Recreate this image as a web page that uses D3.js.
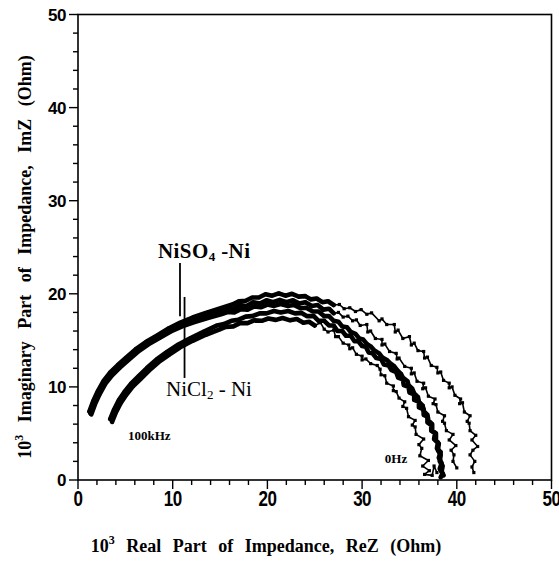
<!DOCTYPE html>
<html>
<head>
<meta charset="utf-8">
<script src="https://cdn.jsdelivr.net/npm/d3@7"></script>
<style>
  html, body { margin: 0; padding: 0; background: #fff; }
  svg { display: block; }
</style>
</head>
<body>
<div id="chart"></div>
<script>
// axis ticks
const majorTicks = [0, 10, 20, 30, 40, 50];
const minorTicks = d3.range(0, 51, 2);

// NiSO4 - Ni, three runs  [ReZ, ImZ] in 10^3 Ohm
const niso4Run1 = [[1.2,7.35],[1.6,8.45],[2.1,9.55],[2.7,10.65],[3.4,11.55],[4.2,12.35],[5.1,13.15],[6.1,14.05],[7.2,14.85],[8.4,15.55],[9.6,16.3],[10.8,16.9],[12.1,17.45],[13.5,17.95],[14.9,18.4],[16.3,18.85],[17.0,19.2],[17.7,19.25],[18.4,19.6],[19.1,19.6],[19.8,19.95],[20.5,19.8],[21.2,20.05],[21.9,19.8],[22.6,20.0],[23.3,19.7],[24.0,19.75],[24.6,19.4],[25.2,19.5],[25.8,19.1],[26.4,19.2],[27.0,18.8],[27.6,18.85],[28.1,18.4],[28.7,18.5],[29.3,18.1],[29.9,18.3],[30.5,17.8],[31.0,17.95],[31.8,17.1],[32.1,17.3],[32.6,16.7],[33.4,16.7],[33.5,15.9],[33.8,16.1],[34.3,15.2],[35.0,15.4],[35.2,14.5],[35.5,14.7],[35.9,13.9],[36.5,13.8],[36.6,13.1],[36.9,13.2],[37.3,12.3],[37.9,12.1],[38.0,11.5],[38.3,11.6],[38.6,10.7],[39.2,10.4],[39.2,9.9],[39.5,10.0],[39.8,9.1],[40.4,8.7],[40.3,8.2],[40.6,8.3],[40.8,7.3],[41.4,6.9],[41.1,6.3],[41.3,6.1],[41.4,5.3],[42.0,4.8],[41.6,4.3],[42.2,3.6],[41.7,3.2],[41.4,2.7],[41.9,2.0],[41.6,1.4],[41.8,0.8]];
const niso4Run2 = [[1.3,7.2],[1.7,8.3],[2.2,9.4],[2.8,10.5],[3.5,11.4],[4.3,12.2],[5.2,13.0],[6.2,13.9],[7.3,14.7],[8.5,15.4],[9.7,16.1],[10.9,16.7],[12.2,17.2],[13.6,17.7],[15.0,18.1],[15.7,18.45],[16.4,18.4],[17.1,18.8],[17.8,18.7],[18.5,19.1],[19.2,18.95],[19.9,19.3],[20.6,19.1],[21.3,19.35],[22.0,19.1],[22.7,19.3],[23.4,18.95],[24.0,19.1],[24.7,18.7],[25.3,18.8],[25.9,18.3],[26.5,18.4],[27.0,17.9],[27.5,18.0],[28.0,17.5],[28.5,17.6],[29.0,17.1],[29.4,17.2],[29.8,16.6],[30.5,16.7],[30.6,15.9],[30.9,16.0],[31.4,15.2],[32.1,15.1],[32.1,14.5],[32.4,14.6],[32.9,13.8],[33.6,13.6],[33.7,13.0],[33.9,13.1],[34.5,12.2],[35.2,12.0],[35.2,11.4],[35.5,11.5],[35.8,10.6],[36.5,10.4],[36.4,9.8],[36.7,9.9],[37.0,9.0],[37.7,8.7],[37.5,8.2],[37.8,8.1],[38.0,7.3],[38.7,6.9],[38.5,6.3],[38.7,6.1],[38.9,5.3],[39.6,4.9],[39.2,4.3],[39.9,3.7],[39.4,3.2],[39.7,2.7],[39.6,2.0],[40.0,1.3]];
const niso4Run3 = [[1.4,7.05],[1.8,8.15],[2.3,9.25],[2.9,10.35],[3.6,11.25],[4.4,12.05],[5.3,12.85],[6.3,13.75],[7.4,14.55],[8.6,15.25],[9.8,15.95],[11.0,16.5],[12.3,16.95],[13.7,17.4],[15.1,17.8],[15.8,18.05],[16.5,18.0],[17.2,18.35],[17.9,18.3],[18.6,18.65],[19.3,18.55],[20.0,18.85],[20.7,18.7],[21.4,18.9],[22.1,18.7],[22.8,18.8],[23.5,18.45],[24.1,18.5],[24.8,18.1],[25.4,18.1],[26.0,17.6],[26.5,17.6],[27.0,17.1],[27.5,17.0],[27.9,16.5],[28.4,16.4],[28.8,15.9],[29.3,15.7],[29.7,15.2],[30.1,15.1],[30.5,14.6],[30.9,14.35],[31.3,13.9],[31.8,13.6],[32.1,13.2],[32.6,12.9],[32.9,12.6],[33.4,12.2],[33.7,11.8],[34.1,11.4],[34.3,11.0],[34.8,10.6],[34.9,10.2],[35.3,9.8],[35.5,9.3],[35.9,8.9],[36.0,8.4],[36.4,8.0],[36.5,7.4],[36.9,7.0],[37.0,6.4],[37.4,6.0],[37.4,5.3],[37.8,5.0],[37.8,4.3],[38.1,3.9],[38.0,3.2],[38.3,2.7],[38.2,2.0],[38.5,1.5],[38.4,0.9],[38.6,0.5]];

// NiCl2 - Ni, two runs
const nicl2Run1 = [[3.4,6.55],[3.8,7.55],[4.3,8.55],[4.9,9.45],[5.6,10.35],[6.4,11.15],[7.3,12.05],[8.3,12.95],[9.4,13.75],[10.6,14.55],[11.9,15.25],[13.3,15.95],[14.7,16.6],[15.4,16.75],[16.2,17.1],[16.9,17.2],[17.7,17.55],[18.4,17.6],[19.2,17.9],[19.9,17.9],[20.7,18.15],[21.4,18.0],[22.2,18.15],[22.9,17.9],[23.6,17.95],[24.2,17.6],[24.9,17.6],[25.4,17.1],[26.0,17.1],[26.5,16.6],[27.0,16.6],[27.4,16.0],[27.9,16.0],[28.3,15.5],[28.8,15.5],[29.2,14.9],[29.6,14.9],[30.0,14.4],[30.4,14.3],[30.7,13.7],[31.1,13.6],[31.5,13.1],[32.0,13.0],[32.3,12.4],[32.8,12.3],[33.1,11.8],[33.6,11.6],[33.8,11.0],[34.3,10.8],[34.4,10.2],[34.9,10.0],[35.0,9.4],[35.5,9.2],[35.5,8.6],[36.0,8.4],[36.0,7.8],[36.5,7.6],[36.5,7.0],[36.9,6.8],[36.9,6.2],[37.3,5.9],[37.3,5.3],[37.7,5.0],[37.6,4.4],[38.0,4.0],[37.9,3.4],[38.3,3.0],[38.1,2.4],[38.4,1.8],[38.2,1.2],[38.5,0.7],[38.3,0.3]];
const nicl2Run2 = [[3.6,6.25],[4.0,7.25],[4.5,8.25],[5.1,9.15],[5.8,10.05],[6.6,10.85],[7.5,11.75],[8.5,12.65],[9.6,13.45],[10.8,14.25],[12.1,14.95],[13.5,15.6],[14.9,16.15],[15.6,16.45],[16.4,16.5],[17.1,16.85],[17.9,16.85],[18.6,17.15],[19.4,17.1],[20.1,17.35],[20.9,17.2],[21.6,17.4],[22.4,17.15],[23.1,17.3],[23.8,16.9],[24.4,17.0],[25.0,16.6],[25.6,16.9],[26.0,16.2],[26.4,15.9],[27.0,16.1],[27.2,15.4],[27.5,15.4],[28.0,14.7],[28.6,14.5],[28.7,14.1],[29.0,14.2],[29.4,13.5],[30.0,13.3],[30.0,12.9],[30.4,13.0],[30.9,12.5],[31.6,12.3],[31.9,11.9],[32.0,11.3],[32.4,11.2],[32.6,10.4],[33.3,10.1],[33.3,9.6],[33.6,9.5],[33.9,8.8],[34.5,8.4],[34.3,7.9],[34.7,7.7],[34.9,6.8],[35.6,6.4],[35.3,5.9],[35.6,5.7],[35.7,4.9],[36.5,4.4],[36.0,3.8],[36.3,3.4],[36.1,2.6],[37.0,2.1],[36.4,1.5],[37.1,1.0],[36.6,0.6],[37.4,0.5],[37.6,1.5],[37.9,0.8]];

const runs = [
  { data: niso4Run1, denseTo: 27 },
  { data: niso4Run2, denseTo: 27 },
  { data: niso4Run3, denseTo: 50 },
  { data: nicl2Run1, denseTo: 50 },
  { data: nicl2Run2, denseTo: 25 }
];

const W = 559, H = 561;
const x = d3.scaleLinear().domain([0, 50]).range([78, 551.5]);
const y = d3.scaleLinear().domain([0, 50]).range([480, 14.5]);

const svg = d3.select('#chart').append('svg')
  .attr('width', W).attr('height', H)
  .style('background', '#fff');

// frame
svg.append('rect')
  .attr('x', x(0)).attr('y', y(50))
  .attr('width', x(50) - x(0)).attr('height', y(0) - y(50))
  .attr('fill', 'none').attr('stroke', '#000').attr('stroke-width', 1.6);

// ticks, outward on left and bottom only
const tickG = svg.append('g').attr('stroke', '#000').attr('stroke-width', 1.4);
minorTicks.forEach(t => {
  const len = t % 10 === 0 ? 9 : 5;
  tickG.append('line').attr('x1', x(t)).attr('x2', x(t)).attr('y1', y(0)).attr('y2', y(0) + len);
  tickG.append('line').attr('x1', x(0) - len).attr('x2', x(0)).attr('y1', y(t)).attr('y2', y(t));
});

const tickFont = '"Liberation Sans", Arial, sans-serif';
svg.append('g').selectAll('text').data(majorTicks).enter().append('text')
  .attr('x', 66).attr('y', d => y(d) + 6)
  .attr('text-anchor', 'end')
  .style('font-family', tickFont).style('font-weight', 'bold').style('font-size', '17px')
  .style('letter-spacing', '-0.5px')
  .text(d => d);

svg.append('g').selectAll('text').data(majorTicks).enter().append('text')
  .attr('transform', d => `translate(${x(d)},506) scale(1,1.25)`)
  .attr('text-anchor', 'middle')
  .style('font-family', tickFont).style('font-weight', 'bold').style('font-size', '17px')
  .style('letter-spacing', '-0.5px')
  .text(d => d);

// axis titles
const serif = '"Liberation Serif", "Times New Roman", serif';
const xt = svg.append('text')
  .attr('x', 266).attr('y', 552).attr('text-anchor', 'middle')
  .style('font-family', serif).style('font-weight', 'bold').style('font-size', '18px')
  .style('word-spacing', '7px');
xt.append('tspan').text('10');
xt.append('tspan').attr('dy', -8).style('font-size', '12px').text('3');
xt.append('tspan').attr('dy', 8).text(' Real Part of Impedance, ReZ (Ohm)');

const yt = svg.append('text')
  .attr('transform', 'translate(31,257) rotate(-90)').attr('text-anchor', 'middle')
  .style('font-family', serif).style('font-weight', 'bold').style('font-size', '18px')
  .style('word-spacing', '8px');
yt.append('tspan').text('10');
yt.append('tspan').attr('dy', -8).style('font-size', '12px').text('3');
yt.append('tspan').attr('dy', 8).text(' Imaginary Part of Impedance, ImZ (Ohm)');

// data
const plot = svg.append('g');
const line = d3.line().x(d => x(d[0])).y(d => y(d[1]));

runs.forEach(r => {
  plot.append('path').datum(r.data).attr('d', line)
    .attr('fill', 'none').attr('stroke', '#000').attr('stroke-width', 1.6)
    .attr('stroke-linejoin', 'round');
  const dense = r.data.filter(d => d[0] <= r.denseTo);
  plot.append('path').datum(dense).attr('d', line)
    .attr('fill', 'none').attr('stroke', '#000').attr('stroke-width', 4.6)
    .attr('stroke-linejoin', 'round').attr('stroke-linecap', 'round');
  plot.selectAll(null).data(r.data).enter().append('rect')
    .attr('x', d => x(d[0]) - 1.6).attr('y', d => y(d[1]) - 1.6)
    .attr('width', 3.2).attr('height', 3.2).attr('fill', '#000');
});

// annotations
const ann = svg.append('g').style('font-family', serif).attr('fill', '#000');
const t1 = ann.append('text').attr('x', x(8.45)).attr('y', y(23.85))
  .style('font-weight', 'bold').style('font-size', '21px').style('letter-spacing', '0.4px');
t1.append('tspan').text('NiSO');
t1.append('tspan').attr('dy', 3).style('font-size', '13px').text('4');
t1.append('tspan').attr('dy', -3).text(' -Ni');
ann.append('line').attr('x1', x(10.77)).attr('x2', x(10.77)).attr('y1', y(23.3)).attr('y2', y(17.6))
  .attr('stroke', '#000').attr('stroke-width', 1.8);

const t2 = ann.append('text').attr('x', x(9.3)).attr('y', y(9.05))
  .style('font-size', '21px');
t2.append('tspan').text('NiCl');
t2.append('tspan').attr('dy', 3).style('font-size', '13px').text('2');
t2.append('tspan').attr('dy', -3).text(' - Ni');
ann.append('line').attr('x1', x(11.25)).attr('x2', x(11.25)).attr('y1', y(19.66)).attr('y2', y(10.96))
  .attr('stroke', '#000').attr('stroke-width', 1.8);

ann.append('text').attr('x', x(5.28)).attr('y', y(4.3))
  .style('font-weight', 'bold').style('font-size', '13px').text('100kHz');
ann.append('text').attr('x', x(32.4)).attr('y', y(1.86))
  .style('font-weight', 'bold').style('font-size', '13px').text('0Hz');
</script>
</body>
</html>
